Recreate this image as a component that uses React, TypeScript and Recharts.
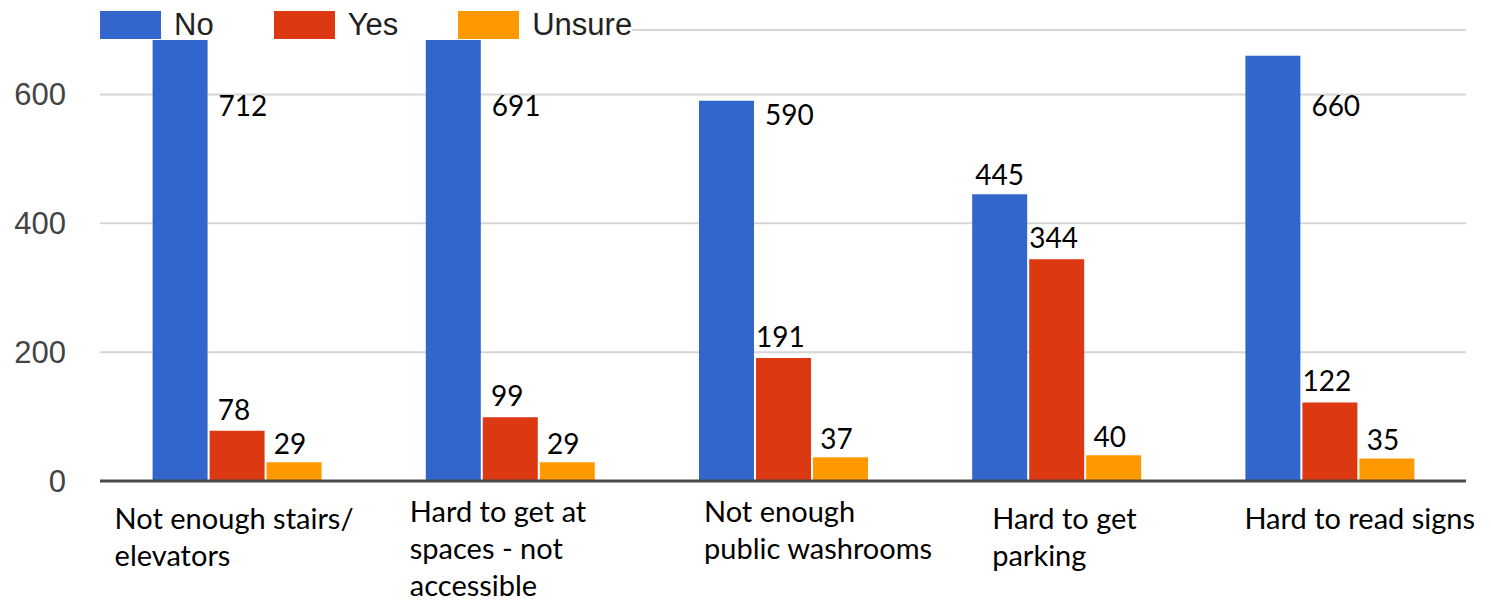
import React from 'react';
import { BarChart, Bar, XAxis, YAxis, CartesianGrid, Legend, LabelList } from 'recharts';

const categoryLines = [
  ['Not enough stairs/', 'elevators'],
  ['Hard to get at', 'spaces - not', 'accessible'],
  ['Not enough', 'public washrooms'],
  ['Hard to get', 'parking'],
  ['Hard to read signs'],
];
const noCounts = [712, 691, 590, 445, 660];
const yesCounts = [78, 99, 191, 344, 122];
const unsureCounts = [29, 29, 37, 40, 35];
const yTicks = [0, 200, 400, 600];

const series = [
  { key: 'no', name: 'No', color: '#3366cc' },
  { key: 'yes', name: 'Yes', color: '#dc3912' },
  { key: 'unsure', name: 'Unsure', color: '#ff9900' },
];

const data = categoryLines.map((lines, i) => ({
  category: lines.join(' '),
  no: noCounts[i],
  yes: yesCounts[i],
  unsure: unsureCounts[i],
}));

const LABEL_FONT = 'Lato, "Open Sans", sans-serif';
const AXIS_FONT = '"Liberation Sans", Arial, sans-serif';

// the category captions sit a little off-centre in the original
const tickShift = [
  { dx: -122, dy: 0 },
  { dx: -100, dy: -7 },
  { dx: -79, dy: -7 },
  { dx: -64, dy: 0 },
  { dx: -85, dy: 0 },
];

function CategoryTick(props: any) {
  const { x, y, index } = props;
  const lines = categoryLines[index] || [];
  const s = tickShift[index] || { dx: 0, dy: 0 };
  return (
    <text x={x + s.dx} y={y + 46 + s.dy} fontFamily={LABEL_FONT} fontSize={29} fill="#000" textAnchor="start">
      {lines.map((l, i) => (
        <tspan key={i} x={x + s.dx} dy={i === 0 ? 0 : 37}>{l}</tspan>
      ))}
    </text>
  );
}

function valueLabel(kind: string) {
  return (props: any) => {
    const { x, y, width, value } = props;
    let tx = x + width / 2;
    let cy = y - 19;
    let anchor = 'middle';
    if (kind === 'no' && value >= 500) {
      tx = x + width + 11;
      cy = Math.max(y + 14, 106);
      anchor = 'start';
    } else if (kind === 'unsure') {
      tx = x + width / 2 - 4;
      cy = y - 18;
    } else if (kind === 'yes') {
      tx = x + width / 2 - 3;
      cy = y - 21;
    }
    return (
      <text x={tx} y={cy + 10} fontFamily={LABEL_FONT} fontSize={28} fill="#000" textAnchor={anchor}>
        {value}
      </text>
    );
  };
}

function LegendContent() {
  return (
    <div
      style={{
        display: 'flex',
        alignItems: 'center',
        fontFamily: AXIS_FONT,
        fontSize: 31,
        lineHeight: '28px',
        color: '#222',
        background: '#fff',
        height: 30,
      }}
    >
      {series.map((s, i) => (
        <div key={s.key} style={{ display: 'flex', alignItems: 'center', marginRight: i < series.length - 1 ? 60 : 0 }}>
          <span style={{ width: 61, height: 28, background: s.color, display: 'inline-block', marginRight: 13 }} />
          <span>{s.name}</span>
        </div>
      ))}
    </div>
  );
}

export default function App() {
  return (
    <div style={{ position: 'absolute', left: 0, top: 0, background: '#fff' }}>
      <BarChart
        width={1491}
        height={603}
        data={data}
        margin={{ top: 30, right: 25, left: 0, bottom: 0 }}
        barCategoryGap="19.25%"
        barGap={2}
      >
        <CartesianGrid vertical={false} stroke="#d6d6d6" strokeWidth={2} />
        <XAxis
          dataKey="category"
          height={122}
          interval={0}
          tickLine={false}
          tickSize={0}
          axisLine={{ stroke: '#4a4a4a', strokeWidth: 3 }}
          tick={<CategoryTick />}
        />
        <YAxis
          width={100}
          domain={[0, 700]}
          allowDataOverflow
          ticks={yTicks}
          axisLine={false}
          tickLine={false}
          tickSize={0}
          tickMargin={34}
          tick={{ fill: '#444', fontSize: 31, fontFamily: AXIS_FONT }}
        />
        {series.map((s) => (
          <Bar key={s.key} dataKey={s.key} name={s.name} fill={s.color} isAnimationActive={false}>
            <LabelList dataKey={s.key} content={valueLabel(s.key)} />
          </Bar>
        ))}
        <Legend
          verticalAlign="middle"
          align="center"
          wrapperStyle={{ top: 10, left: 100, width: 'auto' }}
          content={<LegendContent />}
        />
      </BarChart>
    </div>
  );
}
